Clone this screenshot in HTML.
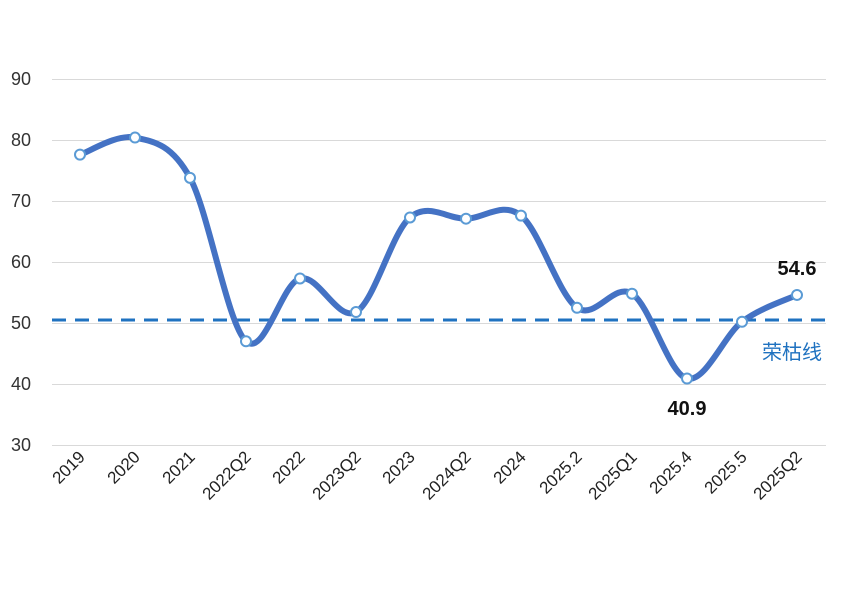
<!DOCTYPE html>
<html><head><meta charset="utf-8"><style>
html,body{margin:0;padding:0;background:#fff;}
svg{display:block;font-family:"Liberation Sans","Noto Sans CJK SC",sans-serif;}
</style></head><body>
<svg id="s" width="842" height="600" viewBox="0 0 842 600">
<g stroke="#d9d9d9" stroke-width="1">
<line x1="52" x2="826" y1="79.5" y2="79.5"/>
<line x1="52" x2="826" y1="140.5" y2="140.5"/>
<line x1="52" x2="826" y1="201.5" y2="201.5"/>
<line x1="52" x2="826" y1="262.5" y2="262.5"/>
<line x1="52" x2="826" y1="323.5" y2="323.5"/>
<line x1="52" x2="826" y1="384.5" y2="384.5"/>
<line x1="52" x2="826" y1="445.5" y2="445.5"/>
</g>
<g font-size="18" fill="#333" text-anchor="end">
<text x="31" y="85">90</text><text x="31" y="146">80</text><text x="31" y="207">70</text>
<text x="31" y="268">60</text><text x="31" y="329">50</text><text x="31" y="390">40</text><text x="31" y="451">30</text>
</g>
<line x1="52" x2="826" y1="320" y2="320" stroke="#1f72c0" stroke-width="3" stroke-dasharray="14,9"/>
<text x="822" y="359" text-anchor="end" font-size="20" fill="#1f72c0">荣枯线</text>
<text x="797" y="275" text-anchor="middle" font-size="20" font-weight="bold" fill="#111">54.6</text>
<text x="687" y="415" text-anchor="middle" font-size="20" font-weight="bold" fill="#111">40.9</text>
<path id="p" fill="none" stroke="#4472c4" stroke-width="6" stroke-linecap="round"/>
<g id="m"></g>
<g id="xl" font-size="17" fill="#222" text-anchor="end"></g>
</svg>
<script>
var xs=[80,135,190,246,300,356,410,466,521,577,632,687,742,797];
var vs=[77.6,80.4,73.8,47,57.3,51.8,67.3,67.1,67.6,52.5,54.8,40.9,50.2,54.6];
var lb=["2019","2020","2021","2022Q2","2022","2023Q2","2023","2024Q2","2024","2025.2","2025Q1","2025.4","2025.5","2025Q2"];
var ys=vs.map(function(v){return 323-(v-50)*6.1;});
var d="M"+xs[0]+","+ys[0];
for(var i=0;i<xs.length-1;i++){
 var x0=xs[Math.max(i-1,0)],y0=ys[Math.max(i-1,0)],x3=xs[Math.min(i+2,xs.length-1)],y3=ys[Math.min(i+2,xs.length-1)];
 var t=1/6;
 var c1x=xs[i]+(xs[i+1]-x0)*t,c1y=ys[i]+(ys[i+1]-y0)*t;
 var c2x=xs[i+1]-(x3-xs[i])*t,c2y=ys[i+1]-(y3-ys[i])*t;
 d+=" C"+c1x+","+c1y+" "+c2x+","+c2y+" "+xs[i+1]+","+ys[i+1];
}
document.getElementById("p").setAttribute("d",d);
var m="",x="";
for(var i=0;i<xs.length;i++){
 m+='<circle cx="'+xs[i]+'" cy="'+ys[i]+'" r="5" fill="#fff" stroke="#5b9bd5" stroke-width="2"/>';
 x+='<text transform="translate('+(xs[i]+6)+',458) rotate(-45)">'+lb[i]+'</text>';
}
document.getElementById("m").innerHTML=m;
document.getElementById("xl").innerHTML=x;
</script>
</body></html>
